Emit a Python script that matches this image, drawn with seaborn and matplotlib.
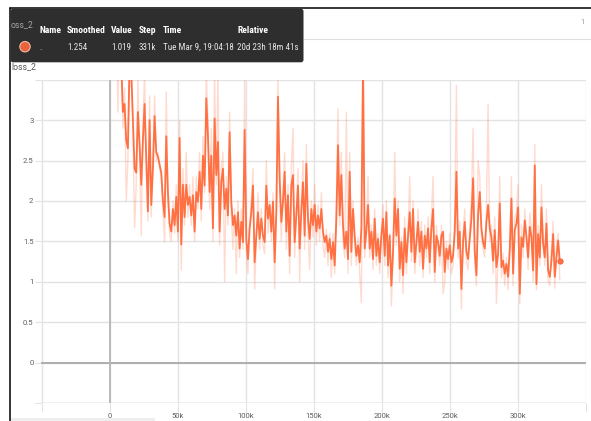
import numpy as np
import pandas as pd
import matplotlib
matplotlib.use("Agg")
import matplotlib.pyplot as plt
import seaborn as sns
from matplotlib.patches import FancyBboxPatch, Circle, Rectangle
from matplotlib.ticker import FixedLocator, FixedFormatter

# ---- logged scalar: loss_2 (one point every 1225 steps, starting at step 4900)
step_start = 4900
step_interval = 1225

smoothed = [
    4.2, 3.8, 4.0, 3.7, 3.1, 3.2, 2.75, 2.65, 3.7, 3.6, 3.0, 2.4, 2.35, 3.1, 2.7,
    2.2, 2.75, 3.2, 2.55, 1.87, 3.0, 1.95, 2.4, 3.05, 2.6, 2.55, 2.45, 2.35, 2.0, 1.8,
    2.8, 2.1, 1.72, 1.62, 1.9, 1.7, 2.05, 1.62, 2.78, 1.46, 2.2, 1.8, 2.2, 1.95, 2.05,
    1.82, 2.07, 1.62, 2.11, 1.99, 2.36, 1.9, 2.56, 2.19, 3.27, 2.81, 2.11, 2.56, 1.66, 3.02,
    2.32, 2.73, 1.62, 2.23, 2.4, 1.9, 2.15, 1.82, 2.85, 1.99, 1.70, 1.82, 1.57, 1.86, 1.41,
    1.74, 1.49, 2.88, 1.53, 1.28, 1.66, 1.86, 2.19, 1.24, 1.57, 1.86, 1.53, 1.78, 1.57, 1.49,
    2.19, 1.78, 1.95, 1.62, 1.99, 1.24, 1.86, 3.29, 2.28, 1.74, 1.99, 2.36, 1.62, 2.07, 1.32,
    2.19, 2.32, 1.49, 1.82, 2.19, 1.41, 1.86, 2.23, 1.57, 2.46, 1.78, 1.53, 1.90, 1.70, 1.95,
    1.62, 1.82, 1.66, 1.9, 1.62, 1.49, 1.57, 1.37, 1.53, 1.28, 1.49, 1.2, 1.78, 2.69, 1.82,
    2.32, 1.70, 1.41, 1.62, 1.28, 2.36, 1.37, 1.9, 1.57, 1.32, 1.45, 1.24, 1.66, 3.7, 1.41,
    1.62, 1.95, 1.41, 1.62, 1.28, 1.78, 1.32, 1.53, 1.24, 1.57, 1.78, 1.32, 1.86, 1.2, 1.57,
    0.95, 1.37, 2.03, 1.57, 1.9, 1.16, 1.49, 1.08, 1.66, 1.24, 1.57, 1.86, 1.37, 1.9, 1.24,
    1.49, 1.74, 1.37, 1.62, 1.16, 1.57, 1.41, 1.66, 1.24, 1.66, 1.9, 1.12, 1.57, 1.49, 1.32,
    1.57, 1.62, 1.12, 1.41, 1.28, 1.45, 1.24, 1.32, 1.62, 2.36, 1.41, 1.62, 0.91, 1.49, 1.74,
    1.37, 1.28, 1.53, 1.78, 2.28, 1.37, 1.08, 1.82, 2.11, 1.66, 1.49, 1.41, 1.74, 1.95, 1.66,
    1.55, 1.26, 1.64, 1.18, 1.35, 1.97, 1.18, 1.26, 1.10, 1.22, 1.06, 1.39, 2.03, 1.10, 1.64,
    1.72, 1.92, 0.85, 1.55, 1.43, 1.76, 1.55, 1.30, 1.68, 1.55, 1.14, 2.44, 0.97, 1.59, 1.30,
    1.92, 1.47, 1.30, 1.72, 1.14, 1.06, 1.26, 1.59, 1.06, 1.30, 1.51, 1.254,
]

raw = [
    4.5, 3.1, 4.6, 3.9, 2.9, 3.4, 2.0, 2.5, 4.2, 3.8, 2.9, 1.67, 2.2, 3.5, 2.6,
    1.57, 2.9, 3.6, 2.4, 1.75, 3.3, 1.8, 2.5, 3.3, 2.5, 2.6, 2.4, 2.3, 1.9, 1.49,
    3.35, 2.0, 1.6, 1.5, 2.0, 1.6, 2.2, 1.5, 3.0, 1.14, 2.4, 1.7, 2.6, 1.8, 2.2,
    1.7, 2.3, 1.5, 2.3, 1.9, 2.6, 1.75, 2.8, 2.1, 3.6, 3.0, 1.9, 2.9, 1.5, 3.6,
    2.2, 3.6, 1.45, 2.4, 2.6, 1.0, 2.3, 1.7, 3.1, 1.85, 1.4, 1.9, 1.1, 2.0, 1.3,
    1.9, 1.4, 3.5, 1.4, 1.1, 1.7, 2.0, 2.4, 0.91, 1.5, 2.1, 1.4, 1.9, 1.45, 1.35,
    2.5, 1.6, 2.0, 1.5, 2.1, 0.91, 1.9, 3.5, 2.1, 1.5, 2.1, 2.6, 1.4, 2.2, 1.1,
    2.4, 2.9, 1.3, 1.9, 2.4, 1.0, 2.0, 2.5, 1.4, 2.7, 1.6, 1.15, 2.0, 1.55, 2.2,
    1.45, 1.95, 1.5, 2.1, 1.45, 1.3, 1.65, 1.2, 1.6, 1.05, 1.6, 1.1, 2.0, 3.14, 1.7,
    2.6, 1.5, 1.3, 3.1, 1.1, 2.6, 1.2, 2.0, 1.45, 1.2, 1.55, 1.1, 0.74, 3.9, 1.3,
    1.7, 2.3, 1.3, 1.7, 1.15, 1.9, 1.2, 1.6, 1.1, 1.65, 1.95, 1.2, 2.0, 1.05, 1.6,
    0.7, 1.3, 2.6, 1.45, 2.0, 1.0, 1.55, 0.85, 1.8, 1.1, 1.65, 2.3, 1.25, 2.0, 1.1,
    1.35, 1.9, 1.2, 1.75, 1.05, 1.7, 1.3, 1.8, 1.1, 1.8, 2.3, 1.0, 1.7, 1.4, 1.2,
    1.7, 0.85, 1.0, 1.5, 1.15, 1.6, 1.1, 1.2, 1.8, 3.43, 1.3, 1.75, 0.66, 1.6, 1.9,
    1.25, 1.15, 1.7, 2.0, 2.9, 1.25, 0.95, 2.5, 2.3, 1.55, 1.4, 1.3, 1.9, 3.2, 1.5,
    1.7, 1.1, 1.8, 0.73, 1.3, 2.3, 1.05, 1.35, 0.95, 1.3, 0.9, 1.5, 2.3, 0.95, 1.8,
    1.85, 2.2, 0.73, 1.7, 1.3, 1.9, 1.6, 1.15, 1.85, 1.65, 1.0, 2.7, 0.9, 1.7, 1.2,
    2.2, 1.55, 1.2, 1.9, 1.0, 0.95, 1.4, 1.75, 0.92, 1.45, 1.6, 1.019,
]

x_ticks = [-50000, 0, 50000, 100000, 150000, 200000, 250000, 300000, 350000]
x_labels = ["", "0", "50k", "100k", "150k", "200k", "250k", "300k", ""]
y_ticks = [-0.5, 0, 0.5, 1, 1.5, 2, 2.5, 3, 3.5]
y_labels = ["", "0", "0.5", "1", "1.5", "2", "2.5", "3", ""]

header = ["Name", "Smoothed", "Value", "Step", "Time", "Relative"]
row = [".", "1.254", "1.019", "331k", "Tue Mar 9, 19:04:18", "20d 23h 18m 41s"]

ORANGE = "#ff7043"

steps = step_start + step_interval * np.arange(len(smoothed))
df = pd.DataFrame({"step": steps, "smoothed": smoothed, "raw": raw})

sns.set_theme(style="white")
plt.rcParams["font.family"] = ["Roboto", "DejaVu Sans"]

W, H = 591, 421
fig = plt.figure(figsize=(W / 100, H / 100), dpi=100)
fig.patch.set_facecolor("white")

# main plot area in pixel coordinates
px_l, px_r, px_t, px_b = 41.5, 586.0, 79.7, 402.9
ax = fig.add_axes([px_l / W, 1 - px_b / H, (px_r - px_l) / W, (px_b - px_t) / H])
ax.set_facecolor("white")

sns.lineplot(data=df, x="step", y="raw", ax=ax, color=ORANGE, alpha=0.25,
             linewidth=1.0, estimator=None)
sns.lineplot(data=df, x="step", y="smoothed", ax=ax, color=ORANGE,
             linewidth=1.3, estimator=None)
ax.scatter([steps[-1]], [smoothed[-1]], s=15, color=ORANGE, edgecolor="#e85a30",
           linewidth=0.5, zorder=5)

ax.set_xlim(-50000, 350000)
ax.set_ylim(-0.5, 3.5)
ax.xaxis.set_major_locator(FixedLocator(x_ticks))
ax.xaxis.set_major_formatter(FixedFormatter(x_labels))
ax.yaxis.set_major_locator(FixedLocator(y_ticks))
ax.yaxis.set_major_formatter(FixedFormatter(y_labels))
ax.set_xlabel("")
ax.set_ylabel("")
for s in ax.spines.values():
    s.set_visible(False)
ax.grid(True, color="#e3e3e3", linewidth=1.0)
ax.set_axisbelow(True)
ax.axhline(0, color="#a9a9a9", linewidth=1.3, zorder=1)
ax.axvline(0, color="#b5b5b5", linewidth=1.3, zorder=1)
ax.axhline(-0.5, color="#d0d0d0", linewidth=1.0, zorder=1)
ax.tick_params(axis="x", length=6.5, width=0.8, color="#e3e3e3", pad=1.0,
               labelsize=5.5, labelcolor="#5e5e5e", bottom=True)
ax.tick_params(axis="y", length=4.3, width=0.8, color="#e3e3e3", pad=1.5,
               labelsize=5.5, labelcolor="#5e5e5e", left=True)

# overlay in pixel coordinates for the card frame and the tooltip
ov = fig.add_axes([0, 0, 1, 1], zorder=10)
ov.set_xlim(0, W)
ov.set_ylim(H, 0)
ov.axis("off")
ov.patch.set_alpha(0)

ov.plot([10, W], [8.3, 8.3], color="black", linewidth=1.1)
ov.plot([10, 10], [8.3, H], color="black", linewidth=1.1)
ov.plot([304, W], [38.5, 38.5], color="#dedede", linewidth=0.8)
ov.add_patch(Rectangle((11, 418), 144, 3, facecolor="#eeeeee", edgecolor="none"))
ov.text(583, 22, "1", fontsize=5.5, color="#9a9a9a", ha="center", va="center")
ov.text(11, 66.5, "loss_2", fontsize=6.3, color="#555555", ha="left", va="center")

ov.add_patch(FancyBboxPatch((10.5, 8.8), 293, 53.5,
                            boxstyle="round,pad=0,rounding_size=2.5",
                            facecolor="#2e2e2e", edgecolor="none", zorder=3))
ov.text(10.5, 25, "oss_2", fontsize=6.3, color="#a8a8a8", ha="left", va="center", zorder=4)

cond = ["Liberation Sans Narrow", "Roboto Condensed", "Liberation Sans", "DejaVu Sans"]
col_x = [39, 67, 111, 139, 163, 237]
for x, t in zip(col_x, header):
    ov.text(x, 30.5, t, fontsize=6.8, fontweight="bold", color="white",
            ha="left", va="center", family=cond, zorder=4)
for x, t in zip(col_x, row):
    ov.text(x, 47, t, fontsize=6.5, color="#e6e6e6",
            ha="left", va="center", family=cond, zorder=4)
ov.add_patch(Circle((25, 46.7), 5.2, facecolor="#e8633c", edgecolor="#f3b8a4",
                    linewidth=0.8, zorder=4))

fig.savefig("out.png", dpi=100)
